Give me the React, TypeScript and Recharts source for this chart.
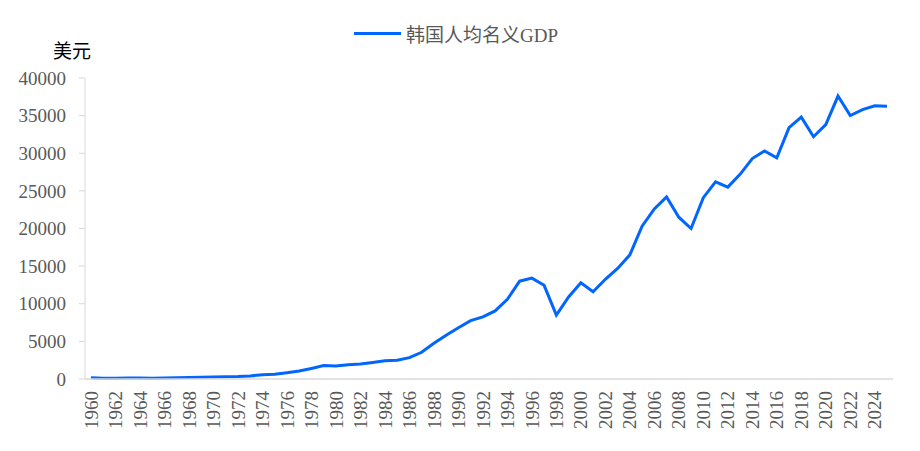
import { CartesianGrid, Line, LineChart, XAxis, YAxis } from 'recharts'

const years = [
  '1960', '1961', '1962', '1963', '1964', '1965', '1966', '1967', '1968', '1969',
  '1970', '1971', '1972', '1973', '1974', '1975', '1976', '1977', '1978', '1979',
  '1980', '1981', '1982', '1983', '1984', '1985', '1986', '1987', '1988', '1989',
  '1990', '1991', '1992', '1993', '1994', '1995', '1996', '1997', '1998', '1999',
  '2000', '2001', '2002', '2003', '2004', '2005', '2006', '2007', '2008', '2009',
  '2010', '2011', '2012', '2013', '2014', '2015', '2016', '2017', '2018', '2019',
  '2020', '2021', '2022', '2023', '2024', '2025',
]

// 韩国人均名义GDP (美元)
const gdpPerCapita = [
  158, 94, 106, 146, 124, 109, 133, 161, 198, 243,
  279, 301, 324, 407, 563, 617, 834, 1055, 1405, 1784,
  1715, 1883, 1992, 2199, 2413, 2482, 2835, 3555, 4749, 5818,
  6800, 7750, 8250, 9050, 10600, 13000, 13400, 12450, 8500, 10900,
  12800, 11600, 13250, 14700, 16500, 20300, 22600, 24200, 21500, 20000,
  24100, 26200, 25500, 27200, 29300, 30300, 29400, 33400, 34800, 32200,
  33800, 37600, 35000, 35800, 36300, 36250,
]

const yTicks = [0, 5000, 10000, 15000, 20000, 25000, 30000, 35000, 40000]

const seriesName = '韩国人均名义GDP'
const unitLabel = '美元'

const data = years.map((year, i) => ({ year, value: gdpPerCapita[i] }))

const FONT = '"Liberation Serif", "Noto Sans CJK SC", serif'
const TEXT = '#595959'
const AXIS = '#d9d9d9'
const BLUE = '#0066ff'

function YearTick(props: { x?: number; y?: number; payload?: { value: string } }) {
  const { x = 0, y = 0, payload } = props
  const ty = y + 4
  return (
    <text
      x={x}
      y={ty}
      dy="0.35em"
      transform={`rotate(-90 ${x} ${ty})`}
      textAnchor="end"
      fill={TEXT}
      fontSize={19}
      fontFamily={FONT}
    >
      {payload?.value}
    </text>
  )
}

export default function App() {
  return (
    <div style={{ position: 'absolute', left: 0, top: 0, width: 920, height: 451, background: '#fff' }}>
      <div
        style={{
          position: 'absolute',
          left: 354,
          top: 20,
          display: 'flex',
          alignItems: 'center',
          fontFamily: FONT,
          fontSize: 19,
          color: TEXT,
          whiteSpace: 'nowrap',
        }}
      >
        <span style={{ display: 'inline-block', width: 47, height: 3, background: BLUE, marginRight: 5 }} />
        <span>{seriesName}</span>
      </div>
      <div
        style={{
          position: 'absolute',
          left: 53,
          top: 36,
          fontFamily: FONT,
          fontSize: 19,
          color: '#000',
          whiteSpace: 'nowrap',
        }}
      >
        {unitLabel}
      </div>
      <LineChart
        width={920}
        height={451}
        data={data}
        margin={{ top: 78, right: 27, left: 0, bottom: 0 }}
      >
        <CartesianGrid horizontal={false} vertical={false} />
        <XAxis
          dataKey="year"
          interval={1}
          padding={{ left: 6, right: 6 }}
          tickLine={false}
          axisLine={{ stroke: AXIS, strokeWidth: 1.5 }}
          tick={<YearTick />}
          height={72}
        />
        <YAxis
          domain={[0, 40000]}
          ticks={yTicks}
          interval={0}
          width={85}
          axisLine={{ stroke: AXIS }}
          tickLine={{ stroke: AXIS }}
          tickSize={6}
          tickMargin={13}
          tick={{ fill: TEXT, fontSize: 19, fontFamily: FONT }}
        />
        <Line
          type="linear"
          dataKey="value"
          name={seriesName}
          stroke={BLUE}
          strokeWidth={3}
          dot={false}
          isAnimationActive={false}
        />
      </LineChart>
    </div>
  )
}
